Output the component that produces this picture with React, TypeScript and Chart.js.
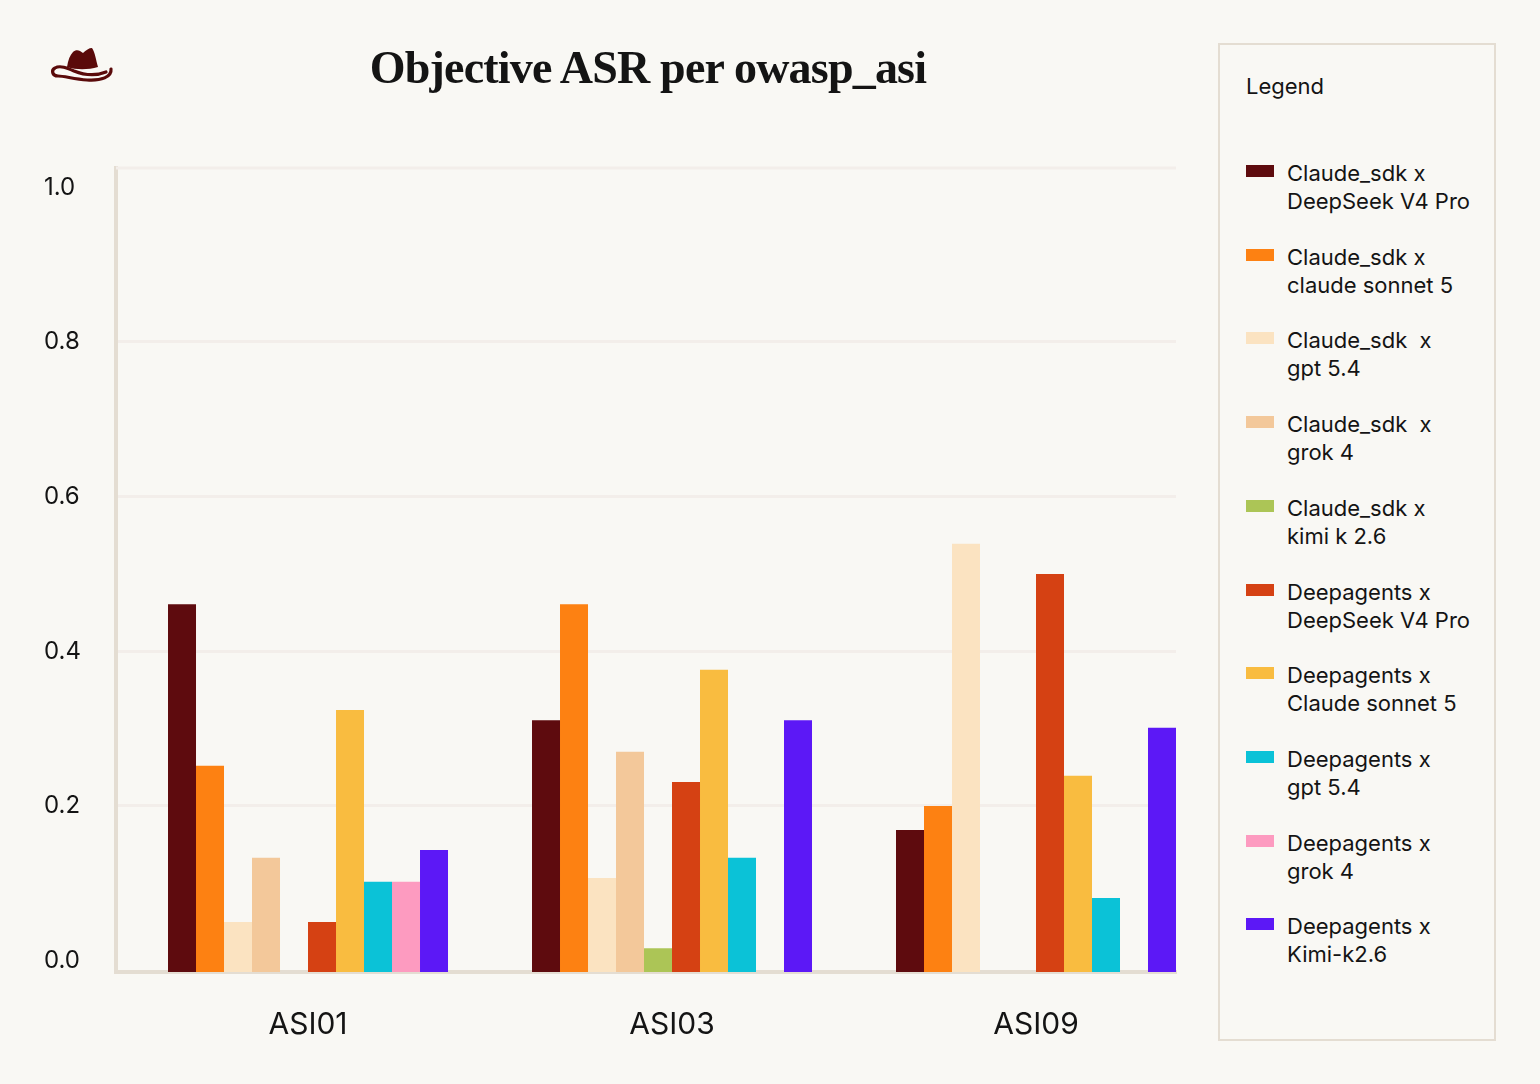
import React, { useEffect, useRef } from "react";
import { Chart, registerables } from "chart.js";

Chart.register(...registerables);

// ---------- data ----------
const categories = ["ASI01", "ASI03", "ASI09"];

const seriesNames = [
  "Claude_sdk x DeepSeek V4 Pro",
  "Claude_sdk x claude sonnet 5",
  "Claude_sdk  x gpt 5.4",
  "Claude_sdk  x grok 4",
  "Claude_sdk x kimi k 2.6",
  "Deepagents x DeepSeek V4 Pro",
  "Deepagents x Claude sonnet 5",
  "Deepagents x gpt 5.4",
  "Deepagents x grok 4",
  "Deepagents x Kimi-k2.6",
];

const seriesColors = [
  "#5e0b0e",
  "#fd8112",
  "#fbe3c1",
  "#f3c89a",
  "#acc556",
  "#d54113",
  "#f9bc40",
  "#0bc2d7",
  "#fd9bc0",
  "#5c18f6",
];

const claudeDeepseek = [0.461, 0.311, 0.169];
const claudeSonnet = [0.252, 0.461, 0.2];
const claudeGpt = [0.05, 0.107, 0.539];
const claudeGrok = [0.133, 0.27, null];
const claudeKimi = [null, 0.016, null];
const deepDeepseek = [0.05, 0.231, 0.5];
const deepSonnet = [0.324, 0.376, 0.239];
const deepGpt = [0.102, 0.133, 0.081];
const deepGrok = [0.102, null, null];
const deepKimi = [0.143, 0.311, 0.301];

const seriesValues = [
  claudeDeepseek,
  claudeSonnet,
  claudeGpt,
  claudeGrok,
  claudeKimi,
  deepDeepseek,
  deepSonnet,
  deepGpt,
  deepGrok,
  deepKimi,
];

const yTicks = [0, 0.2, 0.4, 0.6, 0.8, 1.0];
const yMin = -0.0147;
const yMax = 1.025;
const xMin = -0.5275;
const xMax = 2.3846;

const TEXT = "#141414";
const BG = "#f9f8f4";
const AXIS = "#e4ddd2";
const GRID = "#f3eeea";
const SANS = "Inter, 'Liberation Sans', sans-serif";

function splitName(name: string): [string, string] {
  const idx = name.indexOf("x ");
  return [name.slice(0, idx + 1), name.slice(idx + 2)];
}

const topLinePlugin = {
  id: "topLine",
  beforeDatasetsDraw(chart: any) {
    const { ctx, chartArea } = chart;
    ctx.save();
    ctx.strokeStyle = GRID;
    ctx.lineWidth = 3;
    ctx.beginPath();
    ctx.moveTo(chartArea.left, chartArea.top);
    ctx.lineTo(chartArea.right, chartArea.top);
    ctx.stroke();
    ctx.restore();
  },
};

function BarChart() {
  const ref = useRef<HTMLCanvasElement | null>(null);
  useEffect(() => {
    if (!ref.current) return;
    const chart = new Chart(ref.current, {
      type: "bar",
      data: {
        datasets: seriesNames.map((name, s) => ({
          label: name,
          data: seriesValues[s].map((v, i) => ({ x: i, y: v })),
          backgroundColor: seriesColors[s],
          borderWidth: 0,
          base: yMin,
          barPercentage: 1,
          categoryPercentage: 280 / 364,
        })),
      },
      options: {
        animation: false,
        responsive: false,
        maintainAspectRatio: false,
        layout: { padding: { left: 44, top: 168, right: 24, bottom: 0 } },
        plugins: {
          legend: { display: false },
          title: { display: false },
          tooltip: { enabled: false },
        },
        scales: {
          x: {
            type: "linear",
            offset: false,
            min: xMin,
            max: xMax,
            afterBuildTicks: (s: any) => {
              s.ticks = categories.map((_, i) => ({ value: i }));
            },
            afterFit: (s: any) => {
              s.height = 112;
            },
            ticks: {
              callback: (v: any) => categories[v as number],
              font: { family: SANS, size: 30 },
              color: TEXT,
              padding: 35,
              autoSkip: false,
              maxRotation: 0,
            },
            grid: { display: false, drawTicks: false, offset: false },
            border: { display: true, color: AXIS, width: 4 },
          },
          y: {
            type: "linear",
            min: yMin,
            max: yMax,
            afterBuildTicks: (s: any) => {
              s.ticks = yTicks.map((v) => ({ value: v }));
            },
            afterFit: (s: any) => {
              s.width = 72;
            },
            ticks: {
              callback: (v: any) => Number(v).toFixed(1),
              font: { family: SANS, size: 24 },
              color: TEXT,
              crossAlign: "far",
            },
            grid: {
              drawTicks: false,
              lineWidth: 3,
              color: (ctx: any) =>
                ctx.tick && (ctx.tick.value === 0 || ctx.tick.value === 1)
                  ? "rgba(0,0,0,0)"
                  : GRID,
            },
            border: { display: true, color: AXIS, width: 4 },
          },
        },
      } as any,
      plugins: [topLinePlugin],
    });
    return () => chart.destroy();
  }, []);
  return (
    <canvas
      ref={ref}
      width={1200}
      height={1084}
      style={{ position: "absolute", left: 0, top: 0, width: 1200, height: 1084 }}
    />
  );
}

function Hat() {
  return (
    <svg
      width={1540}
      height={120}
      style={{ position: "absolute", left: 0, top: 0 }}
      viewBox="0 0 1540 120"
    >
      <path
        d="M67 67 C68 60 70 55 73 52 C75 50 78 50 80 51 L83 53 C86 50 89 48 92 48 C95 52 96 60 98 67 C88 70 76 70 67 67 Z"
        fill="#5a0a0a"
      />
      <path
        d="M111 69 C112 77 101 81 87 80 C74 79 64 76 58 76 C52 76 51 70 55 68 C60 65 67 68 74 71 C84 75 96 76 106 72"
        fill="none"
        stroke="#5a0a0a"
        strokeWidth={3.2}
        strokeLinecap="round"
      />
    </svg>
  );
}

function Legend() {
  return (
    <div
      style={{
        position: "absolute",
        left: 1218,
        top: 43,
        width: 278,
        height: 998,
        boxSizing: "border-box",
        border: `2px solid ${AXIS}`,
        background: BG,
      }}
    >
      <div
        style={{
          position: "absolute",
          left: 26,
          top: 72 - 43 - 2,
          font: `22px ${SANS}`,
          lineHeight: "28px",
          color: TEXT,
          whiteSpace: "pre",
        }}
      >
        Legend
      </div>
      {seriesNames.map((name, i) => {
        const [l1, l2] = splitName(name);
        const top = 159 + 83.7 * i - 43 - 2;
        return (
          <React.Fragment key={name}>
            <div
              style={{
                position: "absolute",
                left: 26,
                top: top + 6,
                width: 28,
                height: 12,
                background: seriesColors[i],
              }}
            />
            <div
              style={{
                position: "absolute",
                left: 67,
                top,
                font: `22px ${SANS}`,
                lineHeight: "28px",
                color: TEXT,
                whiteSpace: "pre",
              }}
            >
              {l1}
              {"\n"}
              {l2}
            </div>
          </React.Fragment>
        );
      })}
    </div>
  );
}

export default function App() {
  return (
    <div
      style={{
        position: "fixed",
        left: 0,
        top: 0,
        width: 1540,
        height: 1084,
        background: BG,
        overflow: "hidden",
      }}
    >
      <BarChart />
      <Hat />
      <div
        style={{
          position: "absolute",
          left: 0,
          top: 45,
          width: 1296,
          textAlign: "center",
          font: `bold 46px 'Liberation Serif', serif`,
          letterSpacing: "-0.8px",
          lineHeight: "46px",
          color: TEXT,
          whiteSpace: "pre",
        }}
      >
        Objective ASR per owasp_asi
      </div>
      <Legend />
    </div>
  );
}
